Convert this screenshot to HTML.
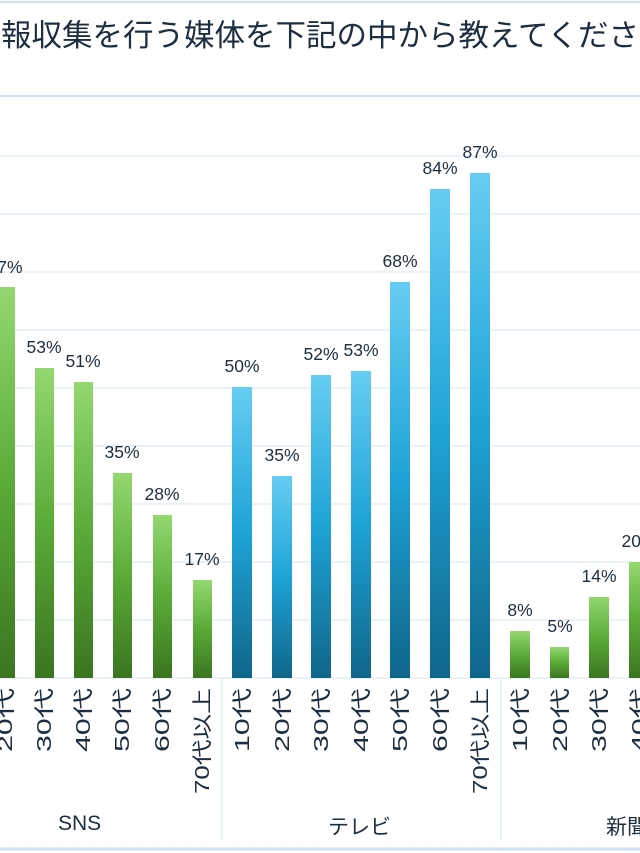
<!DOCTYPE html>
<html><head><meta charset="utf-8"><style>
body{margin:0;background:#fff;}
svg{display:block;font-family:"Liberation Sans","Noto Sans CJK JP",sans-serif;}
</style></head><body>
<svg width="640" height="853" viewBox="0 0 640 853">
<defs>
<linearGradient id="g" x1="0" y1="0" x2="0" y2="1"><stop offset="0" stop-color="#93d870"/><stop offset="0.5" stop-color="#5bab38"/><stop offset="1" stop-color="#3a7520"/></linearGradient>
<linearGradient id="b" x1="0" y1="0" x2="0" y2="1"><stop offset="0" stop-color="#66cdf3"/><stop offset="0.5" stop-color="#1ea3d6"/><stop offset="1" stop-color="#10668a"/></linearGradient>
</defs>
<line x1="0" y1="2" x2="640" y2="2" stroke="#cfe2f3" stroke-width="2"/>
<text x="1" y="46" font-size="30.5" fill="#1c2e40">報収集を行う媒体を下記の中から教えてくださ</text>
<line x1="0" y1="96" x2="640" y2="96" stroke="#cfe2f3" stroke-width="2"/>
<g stroke="#d3e4f2" stroke-width="1">
<line x1="0" y1="156" x2="640" y2="156"/><line x1="0" y1="214" x2="640" y2="214"/><line x1="0" y1="272" x2="640" y2="272"/><line x1="0" y1="330" x2="640" y2="330"/><line x1="0" y1="388" x2="640" y2="388"/><line x1="0" y1="446" x2="640" y2="446"/><line x1="0" y1="504" x2="640" y2="504"/><line x1="0" y1="562" x2="640" y2="562"/><line x1="0" y1="620" x2="640" y2="620"/>
<line x1="0" y1="678" x2="640" y2="678"/>
<line x1="222" y1="678" x2="222" y2="840"/><line x1="501" y1="678" x2="501" y2="840"/>
</g>
<line x1="0" y1="849" x2="640" y2="849" stroke="#cfe2f3" stroke-width="3"/>
<g font-size="17.5" fill="#1c2e40" text-anchor="middle">
<rect x="-4" y="287" width="19" height="391" fill="url(#g)"/><text x="5" y="273">67%</text>
<rect x="35" y="368" width="19" height="310" fill="url(#g)"/><text x="44" y="353">53%</text>
<rect x="74" y="382" width="19" height="296" fill="url(#g)"/><text x="83" y="367">51%</text>
<rect x="113" y="473" width="19" height="205" fill="url(#g)"/><text x="122" y="458">35%</text>
<rect x="153" y="515" width="19" height="163" fill="url(#g)"/><text x="162" y="500">28%</text>
<rect x="193" y="580" width="19" height="98" fill="url(#g)"/><text x="202" y="565">17%</text>
<rect x="232" y="387" width="20" height="291" fill="url(#b)"/><text x="242" y="372">50%</text>
<rect x="272" y="476" width="20" height="202" fill="url(#b)"/><text x="282" y="461">35%</text>
<rect x="311" y="375" width="20" height="303" fill="url(#b)"/><text x="321" y="360">52%</text>
<rect x="351" y="371" width="20" height="307" fill="url(#b)"/><text x="361" y="356">53%</text>
<rect x="390" y="282" width="20" height="396" fill="url(#b)"/><text x="400" y="267">68%</text>
<rect x="430" y="189" width="20" height="489" fill="url(#b)"/><text x="440" y="174">84%</text>
<rect x="470" y="173" width="20" height="505" fill="url(#b)"/><text x="480" y="158">87%</text>
<rect x="510" y="631" width="20" height="47" fill="url(#g)"/><text x="520" y="616">8%</text>
<rect x="550" y="647" width="19" height="31" fill="url(#g)"/><text x="560" y="632">5%</text>
<rect x="589" y="597" width="20" height="81" fill="url(#g)"/><text x="599" y="582">14%</text>
<rect x="629" y="562" width="20" height="116" fill="url(#g)"/><text x="639" y="547">20%</text>
</g>
<g font-size="20" fill="#1c2e40">
<text transform="translate(12,688) rotate(-90)" text-anchor="end" textLength="64" lengthAdjust="spacingAndGlyphs">20代</text>
<text transform="translate(51,688) rotate(-90)" text-anchor="end" textLength="64" lengthAdjust="spacingAndGlyphs">30代</text>
<text transform="translate(90,688) rotate(-90)" text-anchor="end" textLength="64" lengthAdjust="spacingAndGlyphs">40代</text>
<text transform="translate(129,688) rotate(-90)" text-anchor="end" textLength="64" lengthAdjust="spacingAndGlyphs">50代</text>
<text transform="translate(169,688) rotate(-90)" text-anchor="end" textLength="64" lengthAdjust="spacingAndGlyphs">60代</text>
<text transform="translate(209,688) rotate(-90)" text-anchor="end" textLength="106" lengthAdjust="spacingAndGlyphs">70代以上</text>
<text transform="translate(249,688) rotate(-90)" text-anchor="end" textLength="64" lengthAdjust="spacingAndGlyphs">10代</text>
<text transform="translate(289,688) rotate(-90)" text-anchor="end" textLength="64" lengthAdjust="spacingAndGlyphs">20代</text>
<text transform="translate(328,688) rotate(-90)" text-anchor="end" textLength="64" lengthAdjust="spacingAndGlyphs">30代</text>
<text transform="translate(368,688) rotate(-90)" text-anchor="end" textLength="64" lengthAdjust="spacingAndGlyphs">40代</text>
<text transform="translate(407,688) rotate(-90)" text-anchor="end" textLength="64" lengthAdjust="spacingAndGlyphs">50代</text>
<text transform="translate(447,688) rotate(-90)" text-anchor="end" textLength="64" lengthAdjust="spacingAndGlyphs">60代</text>
<text transform="translate(487,688) rotate(-90)" text-anchor="end" textLength="106" lengthAdjust="spacingAndGlyphs">70代以上</text>
<text transform="translate(527,688) rotate(-90)" text-anchor="end" textLength="64" lengthAdjust="spacingAndGlyphs">10代</text>
<text transform="translate(567,688) rotate(-90)" text-anchor="end" textLength="64" lengthAdjust="spacingAndGlyphs">20代</text>
<text transform="translate(606,688) rotate(-90)" text-anchor="end" textLength="64" lengthAdjust="spacingAndGlyphs">30代</text>
<text transform="translate(646,688) rotate(-90)" text-anchor="end" textLength="64" lengthAdjust="spacingAndGlyphs">40代</text>
</g>
<g font-size="21" fill="#1c2e40">
<text x="58" y="830">SNS</text>
<text x="328" y="834">テレビ</text>
<text x="606" y="834">新聞</text>
</g>
</svg>
</body></html>
